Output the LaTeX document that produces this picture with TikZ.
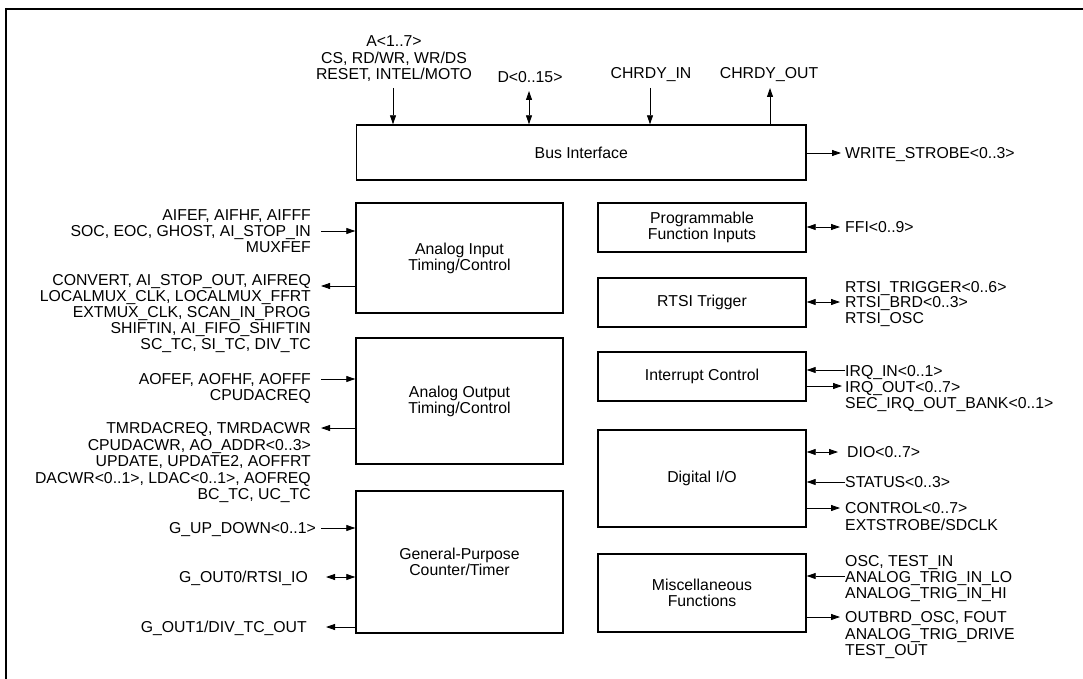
\documentclass[tikz,border=0pt]{standalone}
\usepackage{fontspec}
\setmainfont{Liberation Sans}
\usetikzlibrary{arrows.meta}
\begin{document}
\begin{tikzpicture}[x=1pt,y=-1pt,
  every node/.style={inner sep=0pt, font=\fontsize{15.8}{16}\selectfont},
  blk/.style={draw, line width=1.4pt, align=center},
  lr/.style={anchor=base east},
  ll/.style={anchor=base west},
  lc/.style={anchor=base},
  arr/.style={line width=0.8pt, -{Triangle[length=9pt,width=6pt]}},
  darr/.style={line width=0.8pt, {Triangle[length=9pt,width=6pt]}-{Triangle[length=9pt,width=6pt]}},
  frame/.style={line width=2pt}]
\useasboundingbox (0,0) rectangle (1083,679);
% frame
\draw[frame] (5.5,9) -- (1083,9);
\draw[frame] (5.5,8) -- (5.5,679);

% blocks
\node[blk, minimum width=449.5pt, minimum height=55pt] (bus) at (581.25,152.5) {Bus Interface};
\node[blk, minimum width=207pt, minimum height=110pt] (ai) at (459.5,258) {Analog Input\\Timing/Control};
\node[blk, minimum width=207pt, minimum height=126pt] (ao) at (459.5,401) {Analog Output\\Timing/Control};
\node[blk, minimum width=207pt, minimum height=142pt] (gp) at (459.5,562) {General-Purpose\\Counter/Timer};
\node[blk, minimum width=208pt, minimum height=49pt] (pfi) at (702,227.5) {Programmable\\Function Inputs};
\node[blk, minimum width=208pt, minimum height=49pt] (rtsi) at (702,302.5) {RTSI Trigger};
\node[blk, minimum width=208pt, minimum height=49pt] (irq) at (702,376.5) {Interrupt Control};
\node[blk, minimum width=208pt, minimum height=97pt] (dio) at (702,478.5) {Digital I/O};
\node[blk, minimum width=208pt, minimum height=78pt] (misc) at (702,593) {Miscellaneous\\Functions};

% top labels
\node[lc] (ta1) at (394,46.6) {A<1..7>};
\node[lc] (ta2) at (394,63.1) {CS, RD/WR, WR/DS};
\node[lc] (ta3) at (394,79.6) {RESET, INTEL/MOTO};
\node[lc] (td) at (530,82.6) {D<0..15>};
\node[lc] (tci) at (651,78.6) {CHRDY\_IN};
\node[lc] (tco) at (769,78.6) {CHRDY\_OUT};
\node[ll] (tws) at (845,158.6) {WRITE\_STROBE<0..3>};

\coordinate (pA) at (393,88);
\coordinate (pD) at (529,91);
\coordinate (pCI) at (650,88);
\coordinate (pCO) at (770,88);
\coordinate (pWS) at (841,153);
\draw[arr] (pA) -- (pA |- bus.north);
\draw[darr] (pD) -- (pD |- bus.north);
\draw[arr] (pCI) -- (pCI |- bus.north);
\draw[arr] (pCO |- bus.north) -- (pCO);
\draw[arr] (bus.east |- pWS) -- (pWS);

% left labels
\node[lr] (l1) at (311,220.6) {AIFEF, AIFHF, AIFFF};
\node[lr] (l2) at (311,236.6) {SOC, EOC, GHOST, AI\_STOP\_IN};
\node[lr] (l3) at (311,252.6) {MUXFEF};
\node[lr] (l4) at (311,285.6) {CONVERT, AI\_STOP\_OUT, AIFREQ};
\node[lr] (l5) at (311,301.6) {LOCALMUX\_CLK, LOCALMUX\_FFRT};
\node[lr] (l6) at (311,317.6) {EXTMUX\_CLK, SCAN\_IN\_PROG};
\node[lr] (l7) at (311,333.6) {SHIFTIN, AI\_FIFO\_SHIFTIN};
\node[lr] (l8) at (311,349.6) {SC\_TC, SI\_TC, DIV\_TC};
\node[lr] (l9) at (311,384.6) {AOFEF, AOFHF, AOFFF};
\node[lr] (l10) at (311,400.6) {CPUDACREQ};
\node[lr] (l11) at (311,433.6) {TMRDACREQ, TMRDACWR};
\node[lr] (l12) at (311,450.1) {CPUDACWR, AO\_ADDR<0..3>};
\node[lr] (l13) at (311,466.6) {UPDATE, UPDATE2, AOFFRT};
\node[lr] (l14) at (311,483.1) {DACWR<0..1>, LDAC<0..1>, AOFREQ};
\node[lr] (l15) at (311,499.6) {BC\_TC, UC\_TC};
\node[lr] (l16) at (316,533.6) {G\_UP\_DOWN<0..1>};
\node[lr] (l17) at (308,582.6) {G\_OUT0/RTSI\_IO};
\node[lr] (l18) at (307,632.6) {G\_OUT1/DIV\_TC\_OUT};

\coordinate (pAIi) at (321,231);
\coordinate (pAIo) at (321,286);
\coordinate (pAOi) at (321,379);
\coordinate (pAOo) at (321,428);
\coordinate (pGU) at (321,528);
\coordinate (pG0) at (326,577);
\coordinate (pG1) at (326,627);
\draw[arr] (pAIi) -- (ai.west |- pAIi);
\draw[arr] (ai.west |- pAIo) -- (pAIo);
\draw[arr] (pAOi) -- (ao.west |- pAOi);
\draw[arr] (ao.west |- pAOo) -- (pAOo);
\draw[arr] (pGU) -- (gp.west |- pGU);
\draw[darr] (pG0) -- (gp.west |- pG0);
\draw[arr] (gp.west |- pG1) -- (pG1);

% right labels
\node[ll] (r1) at (845,232.6) {FFI<0..9>};
\node[ll] (r2) at (845,292.6) {RTSI\_TRIGGER<0..6>};
\node[ll] (r3) at (845,307.6) {RTSI\_BRD<0..3>};
\node[ll] (r4) at (845,323.6) {RTSI\_OSC};
\node[ll] (r5) at (845,376.6) {IRQ\_IN<0..1>};
\node[ll] (r6) at (845,392.6) {IRQ\_OUT<0..7>};
\node[ll] (r7) at (845,408.6) {SEC\_IRQ\_OUT\_BANK<0..1>};
\node[ll] (r8) at (847,457.6) {DIO<0..7>};
\node[ll] (r9) at (845,487.6) {STATUS<0..3>};
\node[ll] (r10) at (845,513.6) {CONTROL<0..7>};
\node[ll] (r11) at (845,530.6) {EXTSTROBE/SDCLK};
\node[ll] (r12) at (845,566.6) {OSC, TEST\_IN};
\node[ll] (r13) at (845,582.6) {ANALOG\_TRIG\_IN\_LO};
\node[ll] (r14) at (845,598.6) {ANALOG\_TRIG\_IN\_HI};
\node[ll] (r15) at (845,622.6) {OUTBRD\_OSC, FOUT};
\node[ll] (r16) at (845,639.6) {ANALOG\_TRIG\_DRIVE};
\node[ll] (r17) at (845,655.6) {TEST\_OUT};

\coordinate (pFFI) at (840,227);
\coordinate (pRT) at (840,302);
\coordinate (pIQi) at (845,370);
\coordinate (pIQo) at (842,386);
\coordinate (pDIO) at (838,452);
\coordinate (pST) at (845,482);
\coordinate (pCT) at (840,508);
\coordinate (pMi) at (845,576);
\coordinate (pMo) at (840,617);
\draw[darr] (pfi.east |- pFFI) -- (pFFI);
\draw[darr] (rtsi.east |- pRT) -- (pRT);
\draw[arr] (pIQi) -- (irq.east |- pIQi);
\draw[arr] (irq.east |- pIQo) -- (pIQo);
\draw[darr] (dio.east |- pDIO) -- (pDIO);
\draw[arr] (pST) -- (dio.east |- pST);
\draw[arr] (dio.east |- pCT) -- (pCT);
\draw[arr] (pMi) -- (misc.east |- pMi);
\draw[arr] (misc.east |- pMo) -- (pMo);
\end{tikzpicture}
\end{document}
